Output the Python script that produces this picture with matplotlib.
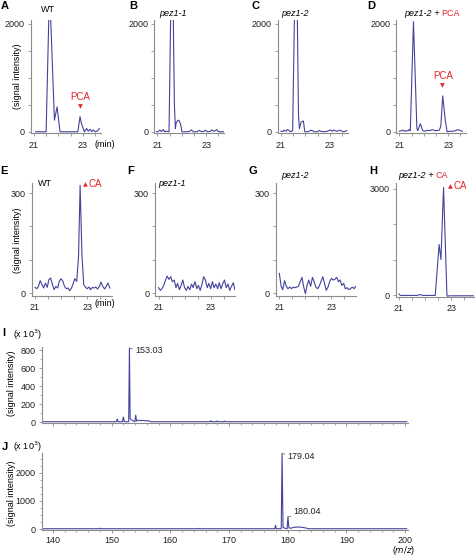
import matplotlib
matplotlib.use("Agg")
import matplotlib.pyplot as plt

plt.rcParams['font.family'] = ['Liberation Sans', 'DejaVu Sans']

W, H = 476, 556
LINE = '#43439a'
RED = '#e3262b'
SPINE = '#8c8c8c'
FS = 6.5

# chromatograms, time (min) vs signal intensity
A_t = [21.07, 21.50, 21.62, 21.67, 21.84, 21.95, 22.07, 22.80, 22.89, 22.95, 23.07,
       23.16, 23.23, 23.30, 23.37, 23.43, 23.52, 23.60, 23.68]
A_y = [0, 0, 2300, 2300, 215, 460, 0, 0, 280, 150, 0, 60, 10, 45, 5, 35, 0, 15, 60]

B_t = [20.97, 21.05, 21.10, 21.17, 21.25, 21.30, 21.37, 21.48, 21.56, 21.64, 21.70,
       21.74, 21.77, 21.82, 21.88, 21.95, 22.01, 22.25, 22.33, 22.40, 22.47, 22.62,
       22.72, 22.82, 22.90, 22.98, 23.06, 23.16, 23.24, 23.30, 23.36, 23.43, 23.50,
       23.58, 23.72]
B_y = [0, 10, 30, 5, 40, 0, 10, 0, 2600, 2600, 500, 60, 165, 200, 215, 150, 0, 0, 10,
       35, 0, 0, 25, 0, 5, 30, 0, 5, 35, 10, 15, 40, 5, 0, 0]

C_t = [21.00, 21.08, 21.13, 21.20, 21.26, 21.33, 21.39, 21.48, 21.57, 21.66, 21.72,
       21.76, 21.79, 21.83, 21.92, 21.98, 22.10, 22.24, 22.37, 22.50, 22.57, 22.65,
       22.77, 22.90, 23.03, 23.10, 23.16, 23.29, 23.42, 23.55, 23.63, 23.70]
C_y = [10, 5, 30, 10, 40, 25, 0, 20, 2600, 2600, 300, 60, 120, 180, 200, 0, 0, 30, 0,
       0, 25, 5, 0, 10, 35, 10, 30, 10, 30, 0, 10, 20]

D_t = [21.00, 21.08, 21.15, 21.22, 21.28, 21.35, 21.40, 21.45, 21.58, 21.72, 21.76,
       21.86, 21.96, 22.06, 22.16, 22.26, 22.35, 22.48, 22.58, 22.64, 22.70, 22.78,
       22.88, 22.96, 23.06, 23.19, 23.30, 23.39, 23.52, 23.58]
D_y = [10, 20, 30, 10, 20, 15, 40, 20, 2040, 60, 20, 150, 20, 10, 30, 20, 40, 20, 25,
       30, 100, 665, 225, 0, 10, 10, 20, 40, 20, 10]

T2 = [21.00, 21.07, 21.13, 21.20, 21.27, 21.33, 21.40, 21.47, 21.53, 21.60, 21.67,
      21.73, 21.80, 21.87, 21.93, 22.00, 22.07, 22.13, 22.20, 22.27, 22.33, 22.40,
      22.47, 22.53, 22.60, 22.67, 22.73, 22.80, 22.87, 22.93, 23.00, 23.07, 23.13,
      23.20, 23.27, 23.33, 23.40, 23.47, 23.53, 23.60, 23.67, 23.73, 23.80, 23.87,
      23.93]
E_y = [17, 13, 20, 37, 25, 15, 30, 17, 40, 45, 25, 10, 20, 15, 35, 43, 35, 20, 13, 15,
       7, 15, 30, 43, 35, 110, 323, 115, 25, 18, 13, 18, 10, 17, 15, 18, 12, 20, 33,
       20, 12, 20, 30, 15]
F_y = [16, 8, 13, 23, 39, 51, 41, 49, 34, 39, 16, 29, 10, 23, 39, 16, 8, 20, 10, 27,
       16, 34, 13, 23, 8, 27, 49, 39, 16, 29, 13, 34, 16, 27, 13, 31, 13, 29, 39, 16,
       27, 8, 20, 31, 10]
G_y = [59, 20, 10, 37, 20, 13, 18, 13, 18, 16, 18, 20, 34, 47, 20, -2, 25, 39, 20, 47,
       35, 18, 13, 20, 35, 49, 30, 8, 18, 34, 44, 39, 41, 47, 34, 39, 23, 29, 13, 16,
       10, 13, 18, 13, 20]

H_t = [21.00, 21.05, 21.20, 21.70, 21.78, 21.85, 21.92, 22.39, 22.54, 22.61, 22.71,
       22.84, 22.87, 22.92, 23.85]
H_y = [40, 0, 0, 0, 20, 20, 0, 0, 1430, 1010, 3030, 0, -25, -10, -10]

# mass spectra, m/z vs signal intensity (x 10^3)
I_mz = [138.3, 150.8, 150.95, 151.1, 151.85, 152.0, 152.15, 152.9, 153.03, 153.15,
        153.3, 153.95, 154.1, 154.25, 154.6, 155.0, 155.4, 155.8, 156.2, 156.7, 166.8,
        166.9, 167.0, 167.9, 168.0, 168.1, 169.1, 169.2, 169.3, 200.3]
I_int = [3, 3, 33, 3, 3, 55, 3, 3, 820, 40, 25, 3, 75, 10, 20, 15, 18, 12, 15, 3, 3,
         15, 3, 3, 12, 3, 3, 12, 3, 3]

J_mz = [138.3, 148.0, 148.1, 148.2, 164.9, 165.0, 165.1, 177.8, 177.92, 178.05, 178.9,
        179.04, 179.2, 179.5, 179.9, 180.04, 180.2, 180.6, 181.0, 181.5, 182.0, 182.5,
        183.0, 183.6, 200.3]
J_int = [10, 10, 30, 10, 10, 25, 10, 10, 130, 10, 10, 2690, 60, 30, 10, 430, 40, 30,
         60, 70, 70, 60, 40, 10, 10]

fig = plt.figure(figsize=(W / 100, H / 100), dpi=100)


def px_axes(l, t, r, b):
    return fig.add_axes([l / W, 1 - b / H, (r - l) / W, (b - t) / H])


def ftext(x, y, s, **kw):
    kw.setdefault('fontsize', FS)
    kw.setdefault('ha', 'center')
    kw.setdefault('va', 'center')
    return fig.text(x / W, 1 - y / H, s, **kw)


def seg_text(x, y, parts):
    r = fig.canvas.get_renderer()
    for s, color, st in parts:
        t = ftext(x, y, s, color=color, style=st, ha='left')
        x += t.get_window_extent(renderer=r).width


def style(ax, xlim, ylim, xt, xl, yt, yl):
    ax.set_xlim(*xlim)
    ax.set_ylim(*ylim)
    for s in ['top', 'right']:
        ax.spines[s].set_visible(False)
    for s in ['left', 'bottom']:
        ax.spines[s].set_color(SPINE)
        ax.spines[s].set_linewidth(0.8)
    ax.set_xticks(xt)
    ax.set_xticklabels(xl)
    ax.set_yticks(yt)
    ax.set_yticklabels(yl)
    ax.tick_params(length=2.5, width=0.6, color=SPINE, labelsize=FS,
                   labelcolor='#222222')
    ax.tick_params(axis='x', pad=3)
    ax.tick_params(axis='y', pad=2)


xt = [21, 21.5, 22, 22.5, 23, 23.5]
xl = ['21', '', '', '', '23', '']

# row 1
row1 = [(31, A_t, A_y), (154.4, B_t, B_y), (278, C_t, C_y), (396.4, D_t, D_y)]
axs1 = []
for l, t, y in row1:
    ax = px_axes(l, 20, l + 70, 133.4)
    ax.plot(t, y, color=LINE, lw=0.8)
    style(ax, (20.88, 23.75), (-30, 2070), xt, xl,
          [0, 500, 1000, 1500, 2000], ['0', '', '', '', '2000'])
    axs1.append(ax)

# row 2
row2 = [(31.9, T2[:44], E_y, (-8, 330)), (155.4, T2, F_y, (-8, 330)),
        (276.2, T2, G_y, (-8, 330))]
axs2 = []
for l, t, y, yl in row2:
    ax = px_axes(l, 183, l + 80, 295.7)
    ax.plot(t, y, color=LINE, lw=0.8)
    style(ax, (20.88, 23.95), yl, xt, xl, [0, 100, 200, 300], ['0', '', '', '300'])
    axs2.append(ax)
axH = px_axes(395.9, 183, 474, 296.5)
axH.plot(H_t, H_y, color=LINE, lw=0.8)
style(axH, (20.88, 23.88), (-30, 3160), xt, xl,
      [0, 1000, 2000, 3000], ['0', '', '', '3000'])

# peak markers
def down_mark(ax, t, y, txt):
    ax.annotate('\u25BC', xy=(t, y), xytext=(0, 7), textcoords='offset points',
                ha='center', va='center', color=RED, fontsize=4.5,
                family='DejaVu Sans', annotation_clip=False)
    ax.annotate(txt, xy=(t, y), xytext=(0, 14), textcoords='offset points',
                ha='center', va='center', color=RED, fontsize=7,
                annotation_clip=False)


def up_mark(ax, t, y, dx, txt):
    ax.annotate('\u25B2', xy=(t, y), xytext=(dx, 0.5), textcoords='offset points',
                ha='center', va='center', color=RED, fontsize=4.5,
                family='DejaVu Sans', annotation_clip=False)
    ax.annotate(txt, xy=(t, y), xytext=(dx + 2.5, 1), textcoords='offset points',
                ha='left', va='center', color=RED, fontsize=7,
                annotation_clip=False)


down_mark(axs1[0], A_t[8], A_y[8], 'PCA')
down_mark(axs1[3], D_t[21], D_y[21], 'PCA')
up_mark(axs2[0], T2[26], E_y[26], 3.8, 'CA')
up_mark(axH, H_t[10], H_y[10], 5, 'CA')

# spectra
axI = px_axes(42, 347.3, 408, 422.9)
axI.plot(I_mz, I_int, color=LINE, lw=0.8)
style(axI, (138.13, 200.5), (-10, 830), list(range(140, 201, 10)), [''] * 7,
      [0, 200, 400, 600, 800], ['0', '200', '400', '600', '800'])
axI.set_yticks(list(range(0, 801, 100)), minor=True)
axI.set_xticks(list(range(140, 201, 2)), minor=True)
axI.tick_params(which='minor', length=1.5, width=0.5, color=SPINE)
axI.annotate('153.03', xy=(153.03, 820), xytext=(4, -2), textcoords='offset points',
             ha='left', va='center', fontsize=FS, color='#222222',
             arrowprops=dict(arrowstyle='-', lw=0.5, color='#555555',
                             shrinkA=0, shrinkB=0))

axJ = px_axes(42, 452.8, 408, 530)
axJ.plot(J_mz, J_int, color=LINE, lw=0.8)
style(axJ, (138.13, 200.5), (-35, 2720), list(range(140, 201, 10)),
      [str(v) for v in range(140, 201, 10)],
      [0, 1000, 2000], ['0', '1000', '2000'])
axJ.set_yticks(list(range(0, 2701, 250)), minor=True)
axJ.set_xticks(list(range(140, 201, 2)), minor=True)
axJ.tick_params(which='minor', length=1.5, width=0.5, color=SPINE)
axJ.tick_params(axis='x', pad=1.5)
axJ.annotate('179.04', xy=(179.04, 2690), xytext=(4, -2), textcoords='offset points',
             ha='left', va='center', fontsize=FS, color='#222222',
             arrowprops=dict(arrowstyle='-', lw=0.5, color='#555555',
                             shrinkA=0, shrinkB=0))
axJ.annotate('180.04', xy=(180.04, 430), xytext=(4, 4), textcoords='offset points',
             ha='left', va='center', fontsize=FS, color='#222222',
             arrowprops=dict(arrowstyle='-', lw=0.5, color='#555555',
                             shrinkA=0, shrinkB=0))

# panel letters
for s, x, y in [('A', 5, 6), ('B', 133, 6), ('C', 255, 6), ('D', 371, 6),
                ('E', 4, 171), ('F', 131, 171), ('G', 253, 171), ('H', 373, 171),
                ('I', 4, 333), ('J', 5, 447)]:
    ftext(x, y, s, fontsize=8, weight='bold')

# panel titles
ftext(48, 10, 'WT')
ftext(173, 13, 'pez1-1', style='italic')
ftext(295, 13, 'pez1-2', style='italic')
seg_text(404, 13, [('pez1-2', 'black', 'italic'), (' + ', 'black', 'normal'),
                   ('PCA', RED, 'normal')])
ftext(45, 183, 'WT')
ftext(172, 183, 'pez1-1', style='italic')
ftext(295, 175, 'pez1-2', style='italic')
seg_text(398, 175, [('pez1-2', 'black', 'italic'), (' + ', 'black', 'normal'),
                    ('CA', RED, 'normal')])

# axis labels
for x, y in [(18, 76), (18, 240), (12, 383), (12, 493)]:
    ftext(x, y, '(signal intensity)', rotation=90)
ftext(105, 145, '(min)')
ftext(105, 303, '(min)')
ftext(27, 335, '(x 10$^3$)')
ftext(27, 447, '(x 10$^3$)')
ftext(404, 550.5, '($m/z$)', fontsize=6.2)

fig.savefig('out.png', dpi=100)
